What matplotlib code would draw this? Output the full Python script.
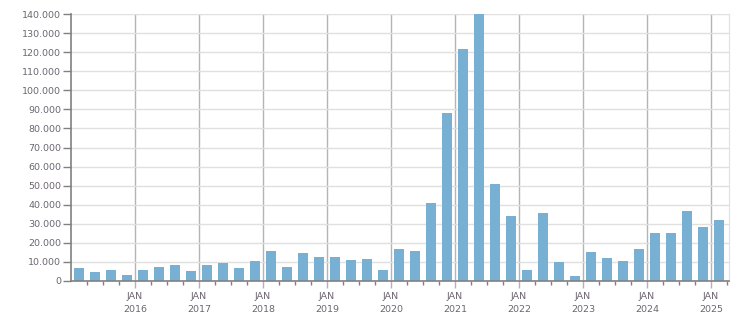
import matplotlib
matplotlib.use("Agg")
import matplotlib.pyplot as plt
from matplotlib.ticker import FuncFormatter, FixedLocator

quarters = ["2015Q1", "2015Q2", "2015Q3", "2015Q4",
            "2016Q1", "2016Q2", "2016Q3", "2016Q4",
            "2017Q1", "2017Q2", "2017Q3", "2017Q4",
            "2018Q1", "2018Q2", "2018Q3", "2018Q4",
            "2019Q1", "2019Q2", "2019Q3", "2019Q4",
            "2020Q1", "2020Q2", "2020Q3", "2020Q4",
            "2021Q1", "2021Q2", "2021Q3", "2021Q4",
            "2022Q1", "2022Q2", "2022Q3", "2022Q4",
            "2023Q1", "2023Q2", "2023Q3", "2023Q4",
            "2024Q1", "2024Q2", "2024Q3", "2024Q4",
            "2025Q1"]
values = [6800, 4700, 5700, 3100,
          5700, 7300, 8400, 5200,
          8400, 9400, 6800, 10400,
          15600, 7200, 14600, 12500,
          12500, 10900, 11400, 5600,
          16700, 15600, 40800, 88100,
          121900, 140000, 50800, 34000,
          5600, 35600, 9800, 2500,
          15100, 11900, 10400, 16700,
          25100, 25100, 36600, 28200,
          31900]
year_labels = ["2016", "2017", "2018", "2019", "2020",
               "2021", "2022", "2023", "2024", "2025"]
month_label = "JAN"

x = [int(q[:4]) + (int(q[-1]) - 1) * 0.25 + 0.125 for q in quarters]

fig = plt.figure(figsize=(7.51, 3.13), dpi=100)
ax = fig.add_axes([71 / 751, 1 - 280.7 / 313, (729 - 71) / 751, (280.7 - 14.3) / 313])

ax.bar(x, values, width=0.25 * 10 / 16, color="#78b0d4", zorder=3)

ax.set_xlim(2015.0, 2015.0 + (729 - 71) / 64)
ax.set_ylim(0, 140000)

text_color = "#6b6570"
ax.set_yticks(range(0, 140001, 10000))
ax.yaxis.set_major_formatter(FuncFormatter(lambda v, p: f"{int(v):,}".replace(",", ".")))
ax.grid(axis="y", color="#e0e0e0", linewidth=1, zorder=0)

years = [int(y) for y in year_labels]
ax.set_xticks(years)
ax.set_xticklabels([f"{month_label}\n{y}" for y in year_labels])
minor = [2015 + i * 0.25 for i in range(1, 42) if (i % 4) != 0]
ax.xaxis.set_minor_locator(FixedLocator(minor))
for yv in years:
    ax.axvline(yv, color="#b4b4b4", linewidth=1, zorder=1)

ax.tick_params(axis="y", which="major", length=6, width=1, color="#808080",
               labelsize=6.8, labelcolor=text_color, pad=1)
ax.tick_params(axis="x", which="major", length=5, width=1, color="#b4b4b4",
               labelsize=6.8, labelcolor=text_color, pad=3)
ax.tick_params(axis="x", which="minor", length=3, width=1, color="#808080")
for lbl in ax.get_xticklabels():
    lbl.set_linespacing(1.55)

for s in ["left", "bottom"]:
    ax.spines[s].set_color("#808080")
    ax.spines[s].set_linewidth(1.2)
    ax.spines[s].set_zorder(4)
ax.spines["top"].set_visible(False)
ax.spines["right"].set_color("#e0e0e0")

fig.savefig("out.png", dpi=100)
